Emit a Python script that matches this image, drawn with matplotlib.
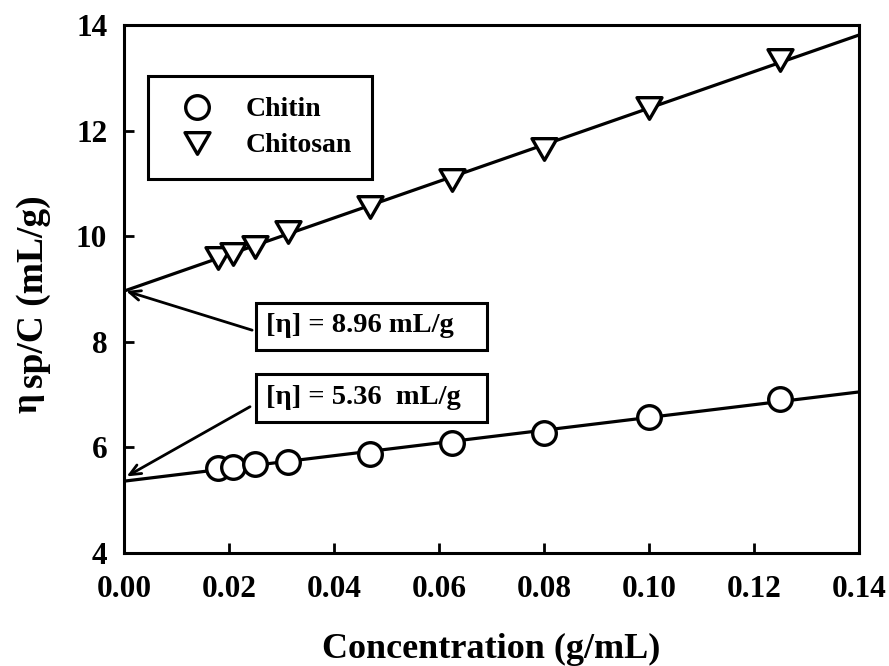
import matplotlib
matplotlib.use('Agg')
import matplotlib.pyplot as plt
from matplotlib.patches import Rectangle
from matplotlib.path import Path

# ── Font setup ──
plt.rcParams['font.family'] = ['Liberation Serif', 'DejaVu Serif']
plt.rcParams['font.weight'] = 'bold'

# ── Data ──
conc = [0.0179, 0.0208, 0.025, 0.0313, 0.0469, 0.0625, 0.08, 0.10, 0.125]
chitin = [5.61, 5.62, 5.69, 5.72, 5.87, 6.08, 6.27, 6.58, 6.91]
chitosan = [9.59, 9.67, 9.79, 10.07, 10.55, 11.06, 11.66, 12.43, 13.33]

fit_x = [0.0, 0.14]
chitin_fit = [5.36, 7.05]
chitosan_fit = [8.96, 13.81]

x_ticks = [0.00, 0.02, 0.04, 0.06, 0.08, 0.10, 0.12, 0.14]
y_ticks = [4, 6, 8, 10, 12, 14]

# equilateral down-pointing triangle marker
TRI = Path([(-1, 0.866), (1, 0.866), (0, -0.866), (-1, 0.866)],
           [Path.MOVETO, Path.LINETO, Path.LINETO, Path.CLOSEPOLY])

# ── Figure setup ──
fig = plt.figure(figsize=(8.89, 6.66), dpi=100)
fig.patch.set_facecolor('white')
ax = fig.add_axes([0.1395, 0.1697, 0.8268, 0.7928])

LW = 2.3
ax.plot(fit_x, chitin_fit, color='black', lw=LW, zorder=2)
ax.plot(fit_x, chitosan_fit, color='black', lw=LW, zorder=2)
ax.plot(conc, chitin, 'o', ms=17, mfc='white', mec='black', mew=2.4,
        ls='none', zorder=3, label='Chitin')
ax.plot(conc, chitosan, marker=TRI, ms=18, mfc='white', mec='black', mew=2.4,
        ls='none', zorder=3, label='Chitosan')

ax.set_xlim(0, 0.14)
ax.set_ylim(4, 14)
ax.set_xticks(x_ticks)
ax.set_xticklabels([f'{v:.2f}' for v in x_ticks])
ax.set_yticks(y_ticks)
ax.tick_params(direction='in', length=7, width=2.0, labelsize=22.5,
               top=False, right=False)
ax.tick_params(axis='x', pad=16)
ax.tick_params(axis='y', pad=12)
for s in ax.spines.values():
    s.set_linewidth(2.2)

ax.set_xlabel('Concentration (g/mL)', fontsize=26, fontweight='bold', labelpad=21)

# y label: eta followed by the rest
fig.text(0.031, (666 - 403) / 666, 'η', rotation=90, fontsize=25, fontweight='bold',
         ha='center', va='center')
fig.text(0.038, (666 - 388) / 666, 'sp/C (mL/g)', rotation=90, fontsize=27,
         fontweight='bold', ha='center', va='bottom')

# ── Legend ──
leg = ax.legend(loc='upper left', bbox_to_anchor=(0.0327, 0.903), fontsize=20,
                frameon=True, fancybox=False, edgecolor='black', framealpha=1,
                borderpad=0.75, handlelength=2.0, handletextpad=0.75,
                labelspacing=0.38, borderaxespad=0)
leg.get_frame().set_linewidth(2.2)
for t in leg.get_texts():
    t.set_fontweight('bold')

# ── Intrinsic viscosity annotations ──
boxes = [
    (0.0251, 7.845, 0.0440, 0.890, '[η] = 8.96 mL/g', 8.30, (0.0244, 8.22), (0.0004, 8.96)),
    (0.0251, 6.48, 0.0440, 0.910, '[η] = 5.36  mL/g', 6.94, (0.0240, 6.77), (0.0005, 5.45)),
]
for x0, y0, w, h, txt, ty, start, end in boxes:
    ax.add_patch(Rectangle((x0, y0), w, h, facecolor='white', edgecolor='black',
                           lw=2.2, zorder=4))
    ax.text(x0 + 0.0019, ty, txt, fontsize=20.5, fontweight='bold',
            ha='left', va='center', zorder=5)
    ax.annotate('', xy=end, xytext=start,
                arrowprops=dict(arrowstyle='->,head_length=0.8,head_width=0.35',
                                color='black', lw=2.0, shrinkA=0, shrinkB=0),
                zorder=5)

fig.savefig('out.png', dpi=100, facecolor='white')
